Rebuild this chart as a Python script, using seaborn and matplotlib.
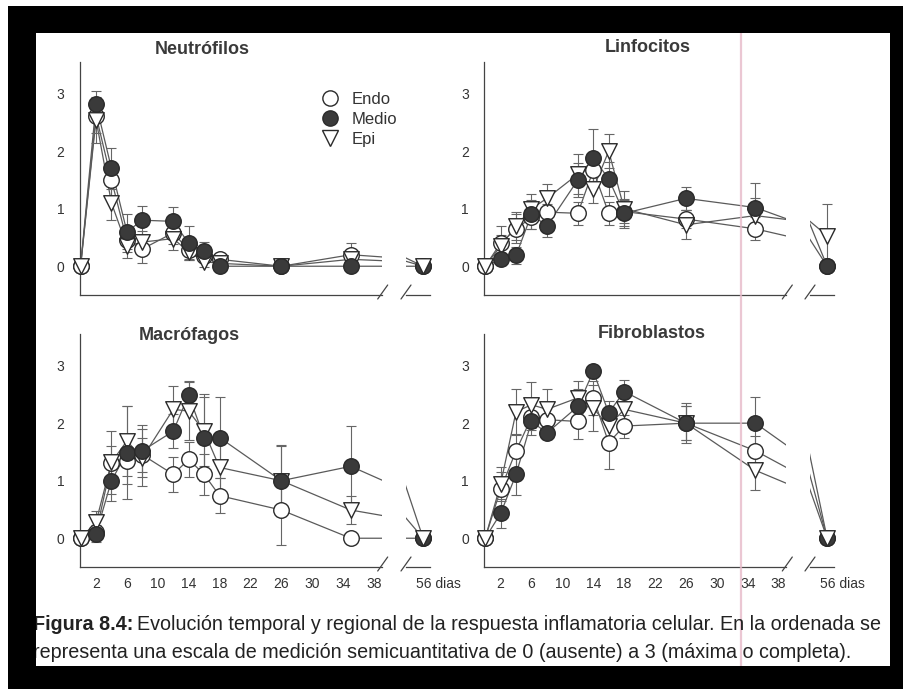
import matplotlib
matplotlib.use("Agg")
import matplotlib.pyplot as plt
from matplotlib.lines import Line2D
from matplotlib.patches import Rectangle
import seaborn as sns

days = [0, 2, 4, 6, 8, 12, 14, 16, 18, 26, 35, 56]
x_ticks = [2, 6, 10, 14, 18, 22, 26, 30, 34, 38]
y_ticks = [0, 1, 2, 3]
layers = ["Endo", "Medio", "Epi"]
titles = ["Neutrófilos", "Linfocitos", "Macrófagos", "Fibroblastos"]

# Neutrófilos
neu_endo = [0, 2.62, 1.50, 0.45, 0.30, 0.58, 0.28, 0.18, 0.12, 0, 0.20, 0]
neu_medio = [0, 2.82, 1.70, 0.60, 0.80, 0.78, 0.40, 0.27, 0, 0, 0, 0]
neu_epi = [0, 2.55, 1.10, 0.35, 0.42, 0.48, 0.25, 0.08, 0.05, 0, 0.12, 0]
neu_endo_err = [0, 0.30, 0.30, 0.20, 0.25, 0.20, 0.15, 0.10, 0.10, 0, 0.20, 0]
neu_medio_err = [0, 0.22, 0.35, 0.30, 0.25, 0.25, 0.30, 0.15, 0, 0, 0, 0]
neu_epi_err = [0, 0.40, 0.30, 0.20, 0.20, 0.20, 0.15, 0.10, 0.05, 0, 0.15, 0]

# Linfocitos
lin_endo = [0, 0.40, 0.65, 0.85, 0.94, 0.92, 1.67, 0.92, 0.95, 0.82, 0.65, 0]
lin_medio = [0, 0.12, 0.19, 0.90, 0.70, 1.50, 1.88, 1.52, 0.92, 1.18, 1.02, 0]
lin_epi = [0, 0.35, 0.70, 1.00, 1.18, 1.60, 1.35, 2.00, 1.00, 0.72, 0.88, 0.53]
lin_endo_err = [0, 0.30, 0.25, 0.20, 0.15, 0.20, 0.20, 0.20, 0.20, 0.15, 0.20, 0]
lin_medio_err = [0, 0.10, 0.15, 0.25, 0.20, 0.30, 0.50, 0.30, 0.25, 0.20, 0.42, 0]
lin_epi_err = [0, 0.20, 0.25, 0.25, 0.25, 0.35, 0.25, 0.30, 0.30, 0.25, 0.30, 0.55]

# Macrófagos
mac_endo = [0, 0.10, 1.30, 1.35, 1.45, 1.11, 1.37, 1.11, 0.74, 0.49, 0, 0]
mac_medio = [0, 0.08, 1.00, 1.49, 1.52, 1.86, 2.49, 1.75, 1.75, 1.00, 1.25, 0]
mac_epi = [0, 0.28, 1.32, 1.69, 1.40, 2.24, 2.21, 1.86, 1.23, 1.00, 0.49, 0]
mac_endo_err = [0, 0.10, 0.30, 0.40, 0.30, 0.30, 0.30, 0.35, 0.30, 0.60, 0, 0]
mac_medio_err = [0, 0.15, 0.35, 0.80, 0.45, 0.30, 0.25, 0.75, 0.70, 0.62, 0.70, 0]
mac_epi_err = [0, 0.20, 0.55, 0.60, 0.50, 0.40, 0.50, 0.60, 0.50, 0.60, 0.25, 0]

# Fibroblastos
fib_endo = [0, 0.85, 1.52, 2.10, 2.06, 2.03, 2.44, 1.66, 1.95, 2.00, 1.52, 0]
fib_medio = [0, 0.43, 1.11, 2.03, 1.83, 2.29, 2.90, 2.18, 2.55, 2.00, 2.00, 0]
fib_epi = [0, 0.94, 2.20, 2.32, 2.24, 2.44, 2.26, 1.95, 2.24, 2.00, 1.18, 0]
fib_endo_err = [0, 0.30, 0.30, 0.30, 0.25, 0.30, 0.30, 0.45, 0.20, 0.30, 0.25, 0]
fib_medio_err = [0, 0.25, 0.35, 0.15, 0.10, 0.30, 0.10, 0.20, 0.20, 0.35, 0.45, 0]
fib_epi_err = [0, 0.30, 0.40, 0.40, 0.35, 0.30, 0.40, 0.30, 0.20, 0.30, 0.35, 0]

caption1 = "Evolución temporal y regional de la respuesta inflamatoria celular. En la ordenada se"
caption2 = "representa una escala de medición semicuantitativa de 0 (ausente) a 3 (máxima o completa)."

panels = [
    (neu_endo, neu_medio, neu_epi, neu_endo_err, neu_medio_err, neu_epi_err),
    (lin_endo, lin_medio, lin_epi, lin_endo_err, lin_medio_err, lin_epi_err),
    (mac_endo, mac_medio, mac_epi, mac_endo_err, mac_medio_err, mac_epi_err),
    (fib_endo, fib_medio, fib_epi, fib_endo_err, fib_medio_err, fib_epi_err),
]

sns.set_theme(style="white")
plt.rcParams['font.family'] = ['Liberation Sans', 'DejaVu Sans']

W, H = 904, 689
fig = plt.figure(figsize=(W / 100, H / 100), dpi=100)
fig.patch.set_facecolor("white")


def box(x0, y0, x1, y1):
    # pixel box, top-left origin -> figure fraction
    return [x0 / W, 1 - y1 / H, (x1 - x0) / W, (y1 - y0) / H]


def fx(x):
    return x / W


def fy(y):
    return 1 - y / H


ink = "#333333"
line_col = "#5a5a5a"
styles = [("o", "white"), ("o", "#3a3a3a"), ("v", "white")]
# stacking of the markers; at day 0 the open symbols lie on top,
# at day 56 the triangle sits over the filled circle
z_main = [3, 5, 4]
z_day0 = [4, 3, 5]
z_day56 = [3, 4, 5]
col_x = [79.8, 484.4]
main_w = 301.9
brk_x = [406, 810]
brk_w = 24
row_y = [(62, 295), (334, 567)]
title_pos = [(202, 49), (648, 48), (189, 335), (652, 333)]

for i, data in enumerate(panels):
    r, c = divmod(i, 2)
    y0, y1 = row_y[r]
    ax = fig.add_axes(box(col_x[c], y0, col_x[c] + main_w, y1))
    axb = fig.add_axes(box(brk_x[c], y0, brk_x[c] + brk_w, y1))
    vals, errs = data[:3], data[3:]

    for a, lo, hi in [(ax, 0, 36), (axb, 40, 60)]:
        a.set_facecolor("none")
        keep = [k for k, d in enumerate(days) if lo <= d <= hi]
        for j, (y, e) in enumerate(zip(vals, errs)):
            marker, face = styles[j]
            sns.lineplot(x=days, y=y, ax=a, color=line_col, linewidth=0.9,
                         sort=False, estimator=None, legend=False, zorder=2)
            xs = [days[k] for k in keep]
            ys = [y[k] for k in keep]
            es = [e[k] for k in keep]
            a.errorbar(xs, ys, yerr=es, fmt="none", ecolor="#666666",
                       elinewidth=0.8, capsize=3.5, capthick=0.8,
                       zorder=2.5, clip_on=False)
            for k in range(len(xs)):
                if xs[k] == 0:
                    z = z_day0[j]
                elif xs[k] == 56:
                    z = z_day56[j]
                else:
                    z = z_main[j]
                sns.scatterplot(x=[xs[k]], y=[ys[k]], ax=a, marker=marker,
                                s=125, color=face, edgecolor="#2a2a2a",
                                linewidth=1.0, legend=False, zorder=z,
                                clip_on=False)
        a.set_ylim(-0.5, 3.55)
        a.set_xlabel("")
        a.set_ylabel("")
        for side in ["top", "right"]:
            a.spines[side].set_visible(False)
        a.spines["bottom"].set_color("#444444")
        a.spines["bottom"].set_linewidth(0.9)

    ax.set_xlim(-0.1, 39.0)
    ax.set_xticks(x_ticks)
    ax.set_yticks(y_ticks)
    ax.set_yticklabels([str(t) for t in y_ticks])
    ax.spines["left"].set_color("#444444")
    ax.spines["left"].set_linewidth(0.9)
    ax.tick_params(axis="y", length=0, pad=11, labelsize=10, labelcolor=ink)
    ax.tick_params(axis="x", direction="in", length=4, width=0.8,
                   color="#444444", pad=7, labelsize=10, labelcolor=ink,
                   labelbottom=(r == 1))

    axb.set_xlim(41, 62)
    axb.spines["left"].set_visible(False)
    axb.set_yticks([])
    axb.set_xticks([56])
    axb.tick_params(axis="x", direction="in", length=4, width=0.8,
                    color="#444444", labelbottom=False)
    if r == 1:
        axb.annotate("56 dias", xy=(56, 0), xycoords=("data", "axes fraction"),
                     xytext=(-7, -10), textcoords="offset pixels",
                     ha="left", va="top", fontsize=10, color=ink)

    # break marks on the day axis
    for sx in [col_x[c] + main_w + 1, brk_x[c]]:
        fig.add_artist(Line2D([fx(sx - 5), fx(sx + 5)], [fy(y1 + 4), fy(y1 - 10)],
                              color="#444444", lw=0.9))

    tx, ty = title_pos[i]
    fig.text(fx(tx), fy(ty), titles[i], ha="center", va="center",
             fontsize=13, fontweight="bold", color="#3a3a3a")

    if i == 0:
        handles = [Line2D([], [], ls="none", marker=styles[j][0], ms=11,
                          mfc=styles[j][1], mec="#2a2a2a", mew=1.0)
                   for j in range(3)]
        ax.legend(handles, layers, loc="upper left",
                  bbox_to_anchor=(fx(322), fy(92)), bbox_transform=fig.transFigure,
                  frameon=False, fontsize=12, handlelength=1.0, handletextpad=0.75,
                  labelspacing=0.3, borderpad=0, borderaxespad=0,
                  labelcolor=ink)

# caption, fitted to the printed line width
cap_fam = ['Liberation Sans Narrow', 'Liberation Sans']
renderer = fig.canvas.get_renderer()
size = 12.0
for _ in range(2):
    tb = fig.text(fx(33), fy(625), "Figura 8.4:", fontsize=size, fontweight="bold",
                  family=cap_fam, va="center", ha="left", color="#222222")
    wb = tb.get_window_extent(renderer).width
    t1 = fig.text(fx(33 + wb + 4), fy(625), caption1, fontsize=size,
                  family=cap_fam, va="center", ha="left", color="#222222")
    total = wb + 4 + t1.get_window_extent(renderer).width
    tb.remove()
    t1.remove()
    size = size * 852 / total
tb = fig.text(fx(33), fy(625), "Figura 8.4:", fontsize=size, fontweight="bold",
              family=cap_fam, va="center", ha="left", color="#222222")
wb = tb.get_window_extent(renderer).width
fig.text(fx(33 + wb + 4), fy(625), caption1, fontsize=size,
         family=cap_fam, va="center", ha="left", color="#222222")
fig.text(fx(33), fy(652), caption2, fontsize=size,
         family=cap_fam, va="center", ha="left", color="#222222")

# scanner crease
fig.add_artist(Line2D([fx(741), fx(741)], [fy(33), fy(666)], color="#e7b9c9",
                      lw=1.6, alpha=0.8, zorder=1))

# black scan border
for x0, y0, x1, y1 in [(8, 6, 904, 33), (8, 6, 36, 689), (890, 6, 904, 689), (8, 666, 904, 689)]:
    fig.add_artist(Rectangle((fx(x0), fy(y1)), (x1 - x0) / W, (y1 - y0) / H,
                             transform=fig.transFigure, facecolor="black",
                             edgecolor="none", zorder=20))

fig.savefig("out.png", dpi=100)
